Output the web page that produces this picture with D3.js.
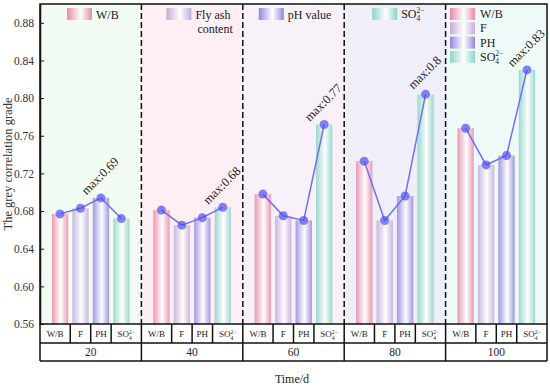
<!DOCTYPE html>
<html lang="en">
<head>
<meta charset="UTF-8">
<title>Grey correlation grade</title>
<script src="https://d3js.org/d3.v7.min.js"></script>
<style>
  body { margin: 0; background: #fff; }
  svg { font-family: "Liberation Serif", "Times New Roman", serif; }
</style>
</head>
<body>
<svg width="550" height="388"></svg>
<script>
  // data
  const times = ["20", "40", "60", "80", "100"];
  const factors = ["W/B", "F", "PH", "SO4"];
  const wb  = [0.677, 0.681, 0.698, 0.733, 0.768];
  const fa  = [0.683, 0.665, 0.675, 0.670, 0.729];
  const ph  = [0.694, 0.673, 0.670, 0.696, 0.739];
  const so4 = [0.672, 0.684, 0.772, 0.804, 0.830];
  const maxLabels = ["max:0.69", "max:0.68", "max:0.77", "max:0.8", "max:0.83"];
  const yTicks = [0.56, 0.60, 0.64, 0.68, 0.72, 0.76, 0.80, 0.84, 0.88];
  const groupLegend = [["W/B"], ["Fly ash", "content"], ["pH value"], ["SO4"]];

  const series = [wb, fa, ph, so4];
  const barColors = ["#e88aa6", "#c2acd8", "#9488dc", "#8cd4c6"];
  const bgColors = ["#f2fcf2", "#fdeff4", "#f8f1fa", "#f0eef9", "#effaf8"];

  const svg = d3.select("svg");
  const pLeft = 40, pRight = 547, pTop = 4, pBottom = 324;
  const row1 = 343, row2 = 361;

  const x = d3.scaleBand().domain(times).range([pLeft, pRight]);
  const xi = d3.scaleBand().domain(factors).range([0, x.bandwidth()])
    .paddingInner(0.2).paddingOuter(0.58);
  const y = d3.scaleLinear().domain([0.56, 0.90]).range([pBottom, pTop]);

  // gradients
  const defs = svg.append("defs");
  barColors.forEach((c, i) => {
    const g = defs.append("linearGradient").attr("id", "grad" + i)
      .attr("x1", "0%").attr("x2", "100%").attr("y1", "0%").attr("y2", "0%");
    g.append("stop").attr("offset", "0%").attr("stop-color", c);
    g.append("stop").attr("offset", "55%").attr("stop-color", "#ffffff");
    g.append("stop").attr("offset", "100%").attr("stop-color", c);
  });

  // backgrounds
  svg.selectAll(".bg").data(times).enter().append("rect")
    .attr("x", d => x(d)).attr("y", pTop)
    .attr("width", x.bandwidth()).attr("height", pBottom - pTop)
    .attr("fill", (d, i) => bgColors[i]);

  // bars, lines, points
  times.forEach((t, gi) => {
    const g = svg.append("g").attr("transform", `translate(${x(t)},0)`);
    factors.forEach((f, fi) => {
      g.append("rect")
        .attr("x", xi(f)).attr("width", xi.bandwidth())
        .attr("y", y(series[fi][gi])).attr("height", pBottom - y(series[fi][gi]))
        .attr("fill", `url(#grad${fi})`).attr("opacity", 0.85);
    });
    const pts = factors.map((f, fi) => [xi(f) + xi.bandwidth() / 2, y(series[fi][gi])]);
    g.append("path").attr("d", d3.line()(pts))
      .attr("fill", "none").attr("stroke", "#7070f0").attr("stroke-width", 1.5);
    g.selectAll("circle").data(pts).enter().append("circle")
      .attr("cx", d => d[0]).attr("cy", d => d[1]).attr("r", 4.5)
      .attr("fill", "#4f4ff2").attr("fill-opacity", 0.7);
    const mi = d3.maxIndex(factors, (f, fi) => series[fi][gi]);
    g.append("text")
      .attr("transform", `translate(${pts[mi][0]},${pts[mi][1] - 21}) rotate(-45)`)
      .attr("text-anchor", "middle").attr("dominant-baseline", "middle")
      .attr("font-size", 12.5).attr("fill", "#222").text(maxLabels[gi]);
  });

  // SO4 with sub/superscript
  function soText(g, tx, ty, size, anchor) {
    const h = g.append("g");
    const t = h.append("text").attr("font-size", size).attr("fill", "#222").text("SO");
    const w = t.node().getComputedTextLength();
    const sup = h.append("text").attr("x", w).attr("y", -size * 0.38)
      .attr("font-size", size * 0.62).attr("fill", "#222").text("2\u2212");
    h.append("text").attr("x", w).attr("y", size * 0.28)
      .attr("font-size", size * 0.62).attr("fill", "#222").text("4");
    const tw = w + sup.node().getComputedTextLength();
    const dx = anchor === "middle" ? -tw / 2 : 0;
    h.attr("transform", `translate(${tx + dx},${ty})`);
  }

  // dashed separators
  svg.selectAll(".sep").data(times.slice(1)).enter().append("line")
    .attr("x1", d => x(d)).attr("x2", d => x(d))
    .attr("y1", pTop).attr("y2", pBottom)
    .attr("stroke", "#111").attr("stroke-width", 1.5).attr("stroke-dasharray", "6,3");

  // group legends
  const legendShift = [27, 25, 16, 28];
  times.slice(0, 4).forEach((t, i) => {
    const x0 = x(t) + legendShift[i];
    svg.append("rect").attr("x", x0).attr("y", 8).attr("width", 25).attr("height", 12)
      .attr("fill", `url(#grad${i})`);
    if (i === 3) {
      soText(svg, x0 + 29, 18, 12, "start");
    } else {
      groupLegend[i].forEach((s, k) => {
        svg.append("text").attr("x", x0 + 29 + (k ? 2 : 0)).attr("y", 19 + k * 14)
          .attr("font-size", 12).attr("fill", "#222").text(s);
      });
    }
  });

  // full legend in last group
  factors.forEach((f, i) => {
    const yy = 8 + i * 14.3;
    svg.append("rect").attr("x", 450).attr("y", yy).attr("width", 25).attr("height", 12)
      .attr("fill", `url(#grad${i})`);
    if (f === "SO4") soText(svg, 480, yy + 10, 12, "start");
    else svg.append("text").attr("x", 480).attr("y", yy + 10).attr("font-size", 12)
      .attr("fill", "#222").text(f);
  });

  // frame
  svg.append("rect").attr("x", pLeft).attr("y", pTop)
    .attr("width", pRight - pLeft).attr("height", pBottom - pTop)
    .attr("fill", "none").attr("stroke", "#111").attr("stroke-width", 1.5);

  // y axis
  const yAxis = svg.append("g").attr("transform", `translate(${pLeft},0)`)
    .call(d3.axisLeft(y).tickValues(yTicks).tickFormat(d3.format(".2f"))
      .tickSizeInner(-4).tickSizeOuter(0).tickPadding(6));
  yAxis.select(".domain").attr("stroke", "#111").attr("stroke-width", 1.5);
  yAxis.selectAll(".tick line").attr("stroke", "#111");
  yAxis.selectAll("text").attr("font-size", 11.5).attr("fill", "#333")
    .attr("font-family", "Liberation Serif, serif");

  svg.append("text")
    .attr("transform", `translate(12,${(pTop + pBottom) / 2}) rotate(-90)`)
    .attr("text-anchor", "middle").attr("font-size", 12.5).attr("fill", "#333")
    .text("The grey correlation grade");

  // table under the plot
  const tbl = svg.append("g").attr("stroke", "#111").attr("stroke-width", 1.5);
  tbl.append("line").attr("x1", pLeft).attr("x2", pRight).attr("y1", row1).attr("y2", row1);
  tbl.append("line").attr("x1", pLeft).attr("x2", pRight).attr("y1", row2).attr("y2", row2);
  times.map(t => x(t)).concat([pRight]).forEach(xx => {
    tbl.append("line").attr("x1", xx).attr("x2", xx).attr("y1", pBottom).attr("y2", row2);
  });
  times.forEach((t, gi) => {
    const inner = factors.slice(0, 3).map(f => x(t) + xi(f) + xi.bandwidth() + xi.step() * 0.1);
    inner.forEach(xx => {
      tbl.append("line").attr("x1", xx).attr("x2", xx).attr("y1", pBottom).attr("y2", row1);
    });
    const bounds = [x(t)].concat(inner).concat([x(t) + x.bandwidth()]);
    factors.forEach((f, fi) => {
      const cx = (bounds[fi] + bounds[fi + 1]) / 2;
      if (f === "SO4") soText(svg, cx, 337, 9, "middle");
      else svg.append("text").attr("x", cx).attr("y", 337).attr("text-anchor", "middle")
        .attr("font-size", 9).attr("fill", "#222").text(f);
    });
    svg.append("text").attr("x", x(t) + x.bandwidth() / 2).attr("y", 356)
      .attr("text-anchor", "middle").attr("font-size", 11.5).attr("fill", "#222").text(t);
  });

  svg.append("text").attr("x", 292).attr("y", 383).attr("text-anchor", "middle")
    .attr("font-size", 12).attr("fill", "#222").text("Time/d");
</script>
</body>
</html>
